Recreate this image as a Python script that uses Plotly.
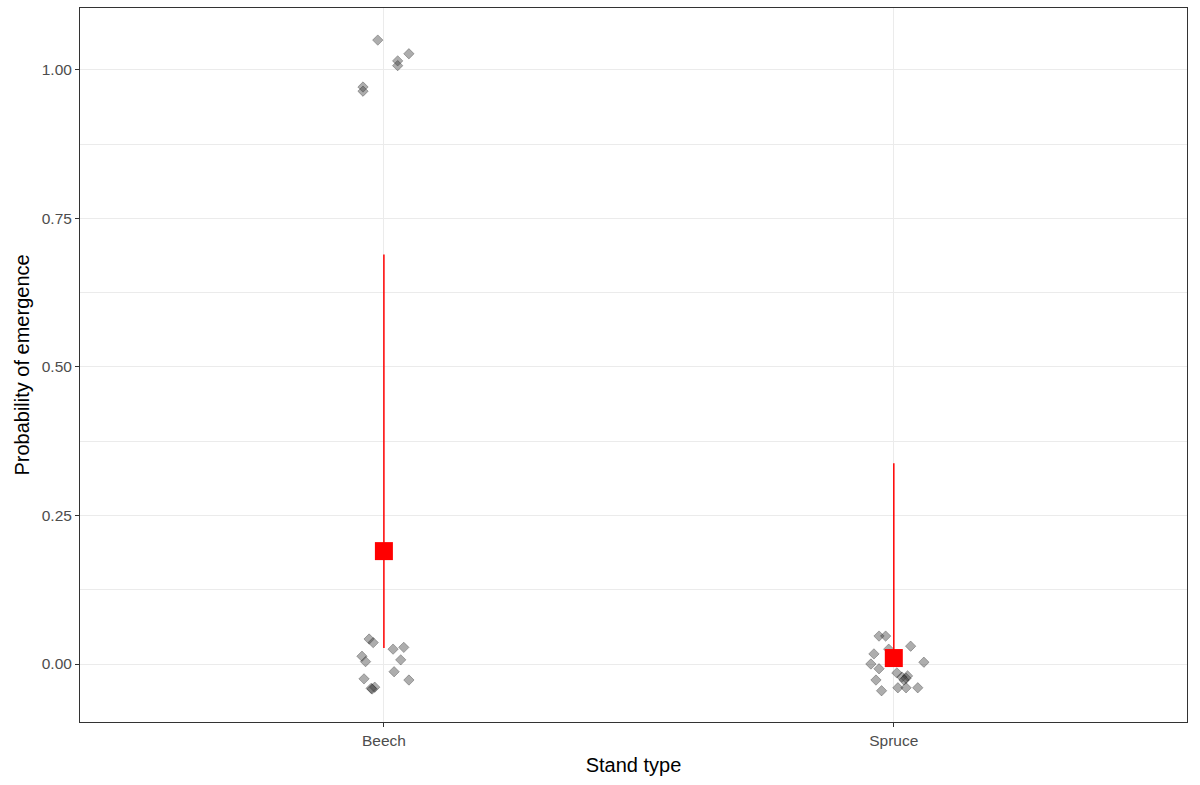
import plotly.graph_objects as go

# Stand types and their positions on the x axis
stands = ["Beech", "Spruce"]
stand_pos = [1, 2]

# Model estimates with 95% interval
est = [0.190, 0.010]
ci_low = [0.027, 0.001]
ci_high = [0.689, 0.338]

# Observed emergence (jittered) per stand
beech_x = [0.988, 1.049, 1.027, 1.027, 0.959, 0.959,
           0.971, 0.979, 1.018, 1.039, 0.957, 0.964, 1.033, 1.020,
           0.961, 1.049, 0.977, 0.982, 0.975]
beech_y = [1.050, 1.027, 1.015, 1.007, 0.971, 0.964,
           0.042, 0.036, 0.025, 0.028, 0.013, 0.004, 0.007, -0.013,
           -0.025, -0.027, -0.042, -0.039, -0.041]
spruce_x = [1.971, 1.984, 2.033, 1.990, 1.961, 2.059, 1.955, 1.971,
            2.006, 2.016, 2.024, 2.027, 2.020, 1.965, 2.008, 2.024,
            2.047, 1.976]
spruce_y = [0.047, 0.047, 0.030, 0.025, 0.017, 0.003, 0.000, -0.008,
            -0.015, -0.022, -0.024, -0.020, -0.027, -0.027, -0.040, -0.040,
            -0.040, -0.045]

fig = go.Figure()

point_style = dict(symbol="diamond", size=8,
                   color="rgba(60,60,60,0.42)",
                   line=dict(color="rgba(0,0,0,0.45)", width=0.6))

fig.add_trace(go.Scatter(x=beech_x + spruce_x, y=beech_y + spruce_y,
                         mode="markers", marker=point_style,
                         hoverinfo="skip", showlegend=False))

# Interval lines
for xp, lo, hi in zip(stand_pos, ci_low, ci_high):
    fig.add_trace(go.Scatter(x=[xp, xp], y=[lo, hi], mode="lines",
                             line=dict(color="#ff0000", width=1.5),
                             showlegend=False, hoverinfo="skip"))

# Point estimates
fig.add_trace(go.Scatter(x=stand_pos, y=est, mode="markers",
                         marker=dict(symbol="square", size=18, color="#ff0000",
                                     line=dict(width=0)),
                         showlegend=False))

tick_font = dict(family="Liberation Sans, Arial, sans-serif", size=15.5, color="#4d4d4d")
title_font = dict(family="Liberation Sans, Arial, sans-serif", size=20, color="#000000")

fig.update_layout(
    width=1200, height=785,
    margin=dict(l=80, r=13, t=8, b=63),
    plot_bgcolor="white", paper_bgcolor="white",
    xaxis=dict(
        range=[0.404, 2.575], tickvals=stand_pos, ticktext=stands,
        showgrid=True, gridcolor="#ebebeb", gridwidth=1,
        zeroline=False, showline=True, mirror=True,
        linecolor="#333333", linewidth=1,
        ticks="outside", ticklen=4, tickcolor="#333333",
        tickfont=tick_font,
        title=dict(text="Stand type", font=title_font, standoff=10),
    ),
    yaxis=dict(
        range=[-0.0976, 1.104], tickvals=[0, 0.25, 0.5, 0.75, 1.0],
        ticktext=["0.00", "0.25", "0.50", "0.75", "1.00"],
        showgrid=True, gridcolor="#ebebeb", gridwidth=1,
        minor=dict(tickvals=[0.125, 0.375, 0.625, 0.875], showgrid=True,
                   gridcolor="#ebebeb", gridwidth=0.6),
        zeroline=False, showline=True, mirror=True,
        linecolor="#333333", linewidth=1,
        ticks="outside", ticklen=4, tickcolor="#333333",
        tickfont=tick_font,
        title=dict(text="Probability of emergence", font=title_font, standoff=6),
    ),
)

fig.write_html("out.html")
